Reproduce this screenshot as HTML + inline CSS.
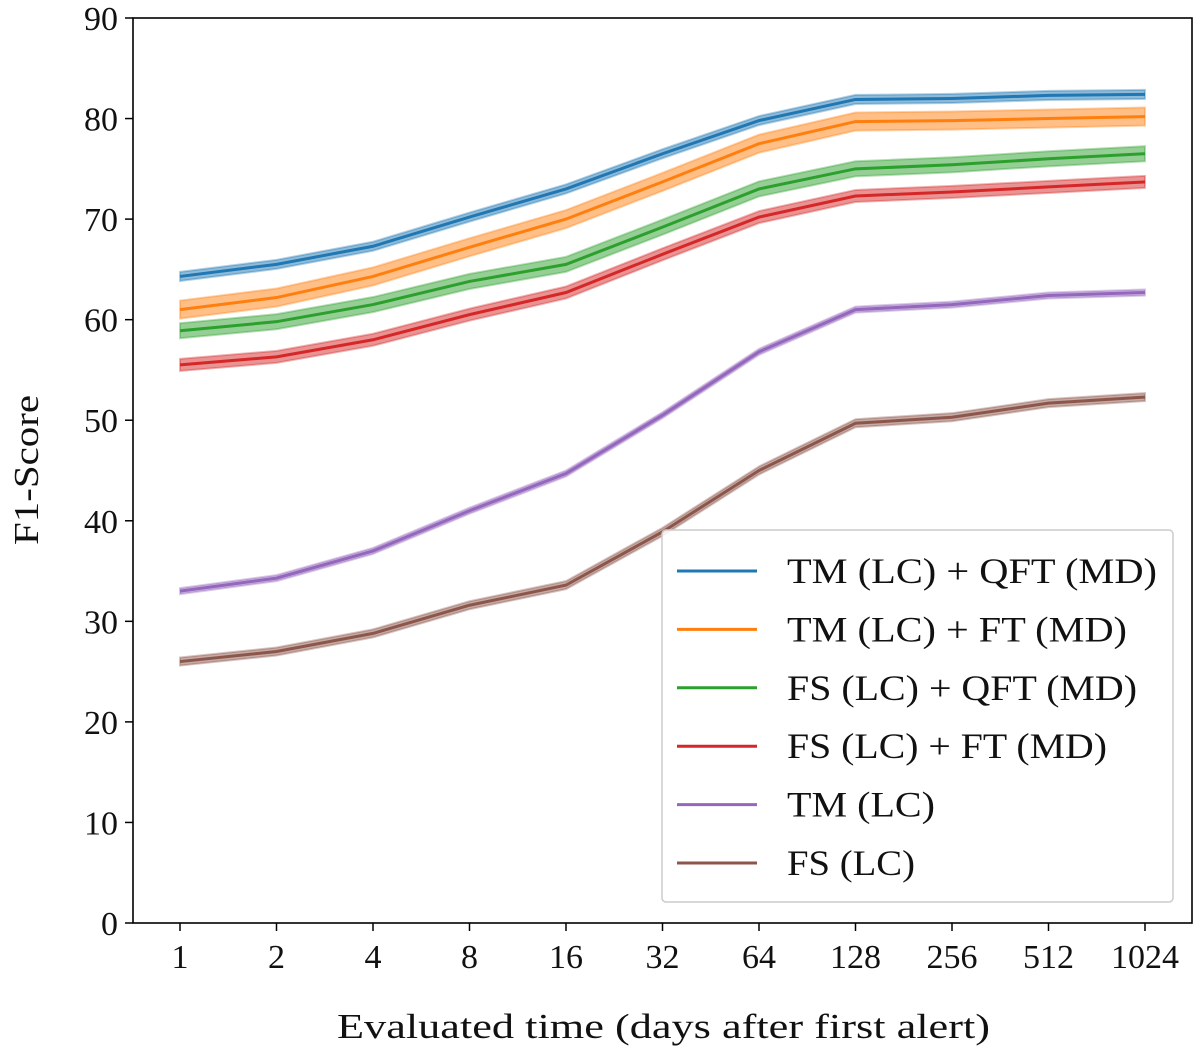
<!DOCTYPE html>
<html><head><meta charset="utf-8"><style>
html,body{margin:0;padding:0;background:#fff}
svg text{font-family:"Liberation Serif",serif;fill:#111}
</style></head><body>
<svg id="chart" width="1200" height="1056" viewBox="0 0 1200 1056" xmlns="http://www.w3.org/2000/svg">
<g id="bands"></g>
<g id="lines"></g>
<rect x="133" y="18" width="1059" height="905" fill="none" stroke="#000" stroke-width="1.6"/>
<g id="axes"></g>
<text x="337" y="1038" font-size="35" textLength="653" lengthAdjust="spacingAndGlyphs">Evaluated time (days after first alert)</text>
<text transform="translate(38,545) rotate(-90)" font-size="35" textLength="150" lengthAdjust="spacingAndGlyphs">F1-Score</text>
<g id="legend"></g>
</svg>
<script>
const categories = ["1","2","4","8","16","32","64","128","256","512","1024"];
const yTicks = [0,10,20,30,40,50,60,70,80,90];
const seriesNames = ["TM (LC) + QFT (MD)","TM (LC) + FT (MD)","FS (LC) + QFT (MD)","FS (LC) + FT (MD)","TM (LC)","FS (LC)"];
const legendWidths = [370,340,350,320,148,128];
const seriesColors = ["#1f77b4","#ff7f0e","#2ca02c","#d62728","#9467bd","#8c564b"];
const sTMQFT = [64.3,65.5,67.3,70.2,73,76.5,79.8,81.9,82,82.3,82.4];
const sTMFT = [61,62.2,64.3,67.2,70,73.7,77.5,79.7,79.8,80,80.2];
const sFSQFT = [58.9,59.8,61.5,63.8,65.5,69.2,73,75,75.4,76,76.5];
const sFSFT = [55.5,56.3,58,60.5,62.7,66.5,70.2,72.3,72.7,73.2,73.7];
const sTM = [33,34.3,37,41,44.7,50.5,56.8,61,61.5,62.4,62.7];
const sFS = [26,27,28.8,31.6,33.6,38.9,45,49.7,50.3,51.7,52.3];
const bandHalf = [0.45,0.9,0.75,0.6,0.3,0.4];
const allSeries = [sTMQFT,sTMFT,sFSQFT,sFSFT,sTM,sFS];
const NS="http://www.w3.org/2000/svg";
const xS = i => 180 + i*96.5;
const yS = v => 923 - v*(905/90);
function mk(tag, attrs){const e=document.createElementNS(NS,tag);for(const k in attrs)e.setAttribute(k,attrs[k]);return e;}
const axes=document.getElementById('axes');
categories.forEach((c,i)=>{
  const t=mk('line',{x1:xS(i),x2:xS(i),y1:923,y2:931,stroke:'#000','stroke-width':1.5});
  
  
  axes.appendChild(t);
  const l=mk('text',{x:xS(i),y:968,'font-size':34,'text-anchor':'middle'});
  
  
  l.textContent=c;axes.appendChild(l);
});
yTicks.forEach(v=>{
  const t=mk('line',{x1:125,x2:133,y1:yS(v),y2:yS(v),stroke:'#000','stroke-width':1.5});
  
  
  axes.appendChild(t);
  const l=mk('text',{x:118,y:yS(v)+12,'font-size':34,'text-anchor':'end'});
  
  
  l.textContent=v;axes.appendChild(l);
});
const bands=document.getElementById('bands'), lines=document.getElementById('lines');
allSeries.forEach((s,k)=>{
  const h=bandHalf[k];
  let up=s.map((v,i)=>xS(i)+','+yS(v+h)).join(' ');
  let dn=s.map((v,i)=>xS(i)+','+yS(v-h)).reverse().join(' ');
  const b=mk('polygon',{points:up+' '+dn,fill:seriesColors[k],'fill-opacity':0.5,stroke:seriesColors[k],'stroke-opacity':0.35,'stroke-width':2});
  
  
  bands.appendChild(b);
  const p=mk('polyline',{points:s.map((v,i)=>xS(i)+','+yS(v)).join(' '),fill:'none',stroke:seriesColors[k],'stroke-width':3});
  
  
  lines.appendChild(p);
});
const lg=document.getElementById('legend');
const box=mk('rect',{x:662,y:530,width:511,height:372,rx:4,fill:'#fff','fill-opacity':0.85,stroke:'#ccc','stroke-width':1.5});


lg.appendChild(box);
seriesNames.forEach((n,k)=>{
  const y=571+k*58.4;
  const g=mk('g',{});
  
  
  g.appendChild(mk('line',{x1:677,x2:757,y1:y,y2:y,stroke:seriesColors[k],'stroke-width':3}));
  const t=mk('text',{x:787,y:y+12,'font-size':36,textLength:legendWidths[k],lengthAdjust:'spacingAndGlyphs'});
  t.textContent=n;g.appendChild(t);
  lg.appendChild(g);
});
</script>
</body></html>
